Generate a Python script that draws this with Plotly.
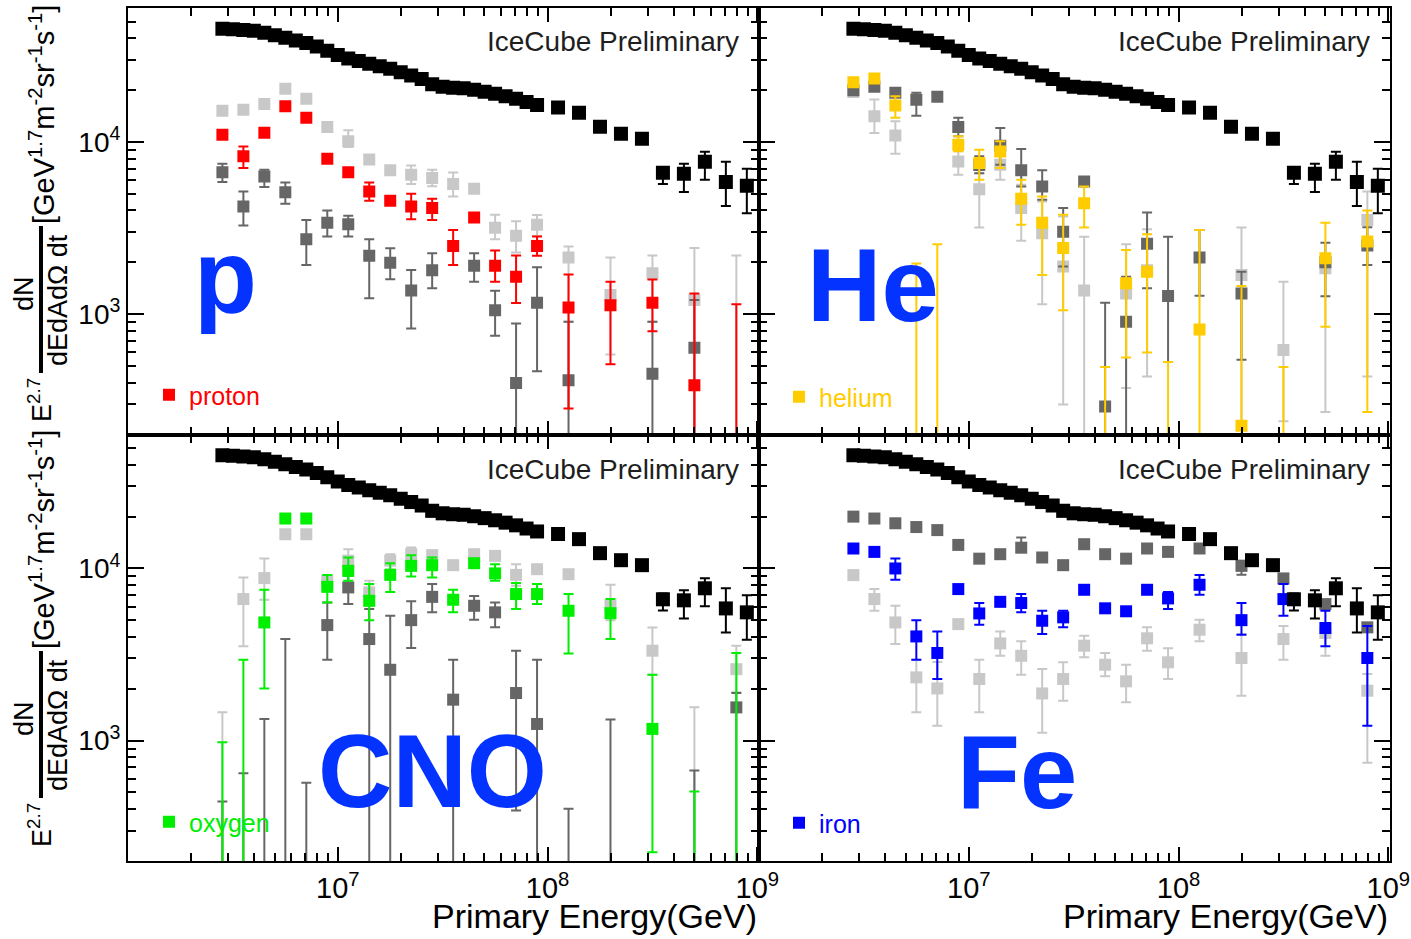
import plotly.graph_objects as go
from plotly.subplots import make_subplots

# ---------------------------------------------------------------- data
# bin centres of the composition analysis, log10(E / GeV)
LOG_E = [6.45, 6.55, 6.65, 6.75, 6.85, 6.95, 7.05, 7.15, 7.25, 7.35, 7.45,
         7.55, 7.65, 7.75, 7.85, 7.95, 8.1, 8.3, 8.5, 8.7, 8.9]

# all-particle spectrum, E^2.7 * flux [GeV^1.7 m^-2 sr^-1 s^-1]
ALL_LOG_E = [6.45, 6.50, 6.55, 6.60, 6.65, 6.70, 6.75, 6.80, 6.85, 6.90,
             6.95, 7.00, 7.05, 7.10, 7.15, 7.20, 7.25, 7.30, 7.35, 7.40,
             7.45, 7.50, 7.55, 7.60, 7.65, 7.70, 7.75, 7.80, 7.85, 7.90,
             7.95, 8.05, 8.15, 8.25, 8.35, 8.45, 8.55, 8.65, 8.75, 8.85, 8.95]
ALL_FLUX = [45500, 45200, 44700, 44200, 43150, 41700, 40270, 38900, 37600, 35900,
            33900, 32000, 30550, 29500, 28500, 27540, 26600, 25400, 24300, 23200,
            21600, 20900, 20650, 20500, 20100, 19600, 19050, 18450, 17800, 17060,
            16400, 15850, 14800, 12270, 11170, 10450, 6620, 6530, 7670, 5860, 5560]
ALL_LO = [None] * 36 + [5700, 5120, 6030, 4250, 3860]
ALL_HI = [None] * 36 + [7160, 7460, 8770, 7670, 6980]

# ---- proton panel
PROTON = [11000, 8250, 11300, 16100, 13800, 8000, 6660, 5160, 4550, 4220, 4130,
          2490, 3640, 1910, 1650, 2490, 1094, 1128, 1163, 386, 120]
PROTON_LO = [10500, 7060, 10800, 15400, 13200, 7650, 6300, 4550, 4350, 3560, 3520,
             1930, 3480, 1540, 1160, 2180, 283, 512, 796, 1, 1]
PROTON_HI = [11500, 9420, 11800, 16800, 14400, 8350, 7050, 5820, 4760, 5000, 4680,
             3080, 3800, 2340, 2190, 2820, 1700, 1540, 1590, 1320, 1140]
PROTON_LIGHT = [15200, 15400, 16600, 20400, 17800, 12200, 10100, 7900, 6840, 6460, 6170,
                5690, 5350, 3180, 2850, 3300, 2130, 1290, 1727, 1208, 150]
PROTON_LIGHT_LO = [14600, 14800, 15900, 19600, 17100, 11700, 9360, 7580, 6560, 5690, 5530,
                   4820, 5130, 2720, 2280, 2840, 902, 582, 902, 1, 1]
PROTON_LIGHT_HI = [15800, 16000, 17300, 21200, 18500, 12700, 11700, 8220, 7130, 7310, 6900,
                   6650, 5580, 3780, 3460, 3760, 2470, 2130, 2190, 2420, 2190]
PROTON_DARK = [6660, 4220, 6310, 5110, 2720, 3400, 3330, 2180, 1990, 1370, 1800,
               None, 1910, 1055, 398, 1163, 413, None, 451, 637, None]
PROTON_DARK_LO = [5850, 3270, 5470, 4370, 1930, 2820, 2820, 1236, 1592, 826, 1413,
                  None, 1541, 748, 1, 466, 1, None, 1, 1, None]
PROTON_DARK_HI = [7480, 5150, 6900, 5820, 3525, 4000, 3730, 2720, 2415, 1803, 2258,
                  None, 2258, 1368, 883, 1871, 902, None, 902, 1208, None]

# ---- helium panel
HELIUM = [22200, 23400, 16300, 120, 120, 9640, 7550, 8810, 4680, 3400, 2420,
          4410, 120, 1510, 1762, 120, 815, 225, 120, 2110, 2640]
HELIUM_LO = [21300, 22400, 13800, 1, 1, 8820, 6030, 7070, 3300, 1690, 1055,
             3185, 1, 560, 598, 1, 1, 1, 1, 844, 270]
HELIUM_HI = [23100, 24500, 18450, 1970, 2550, 10780, 9020, 10080, 6030, 4820, 3780,
             5510, 493, 2360, 2910, 527, 3080, 1456, 493, 3400, 4000]
HELIUM_LIGHT = [19500, 14100, 10900, None, None, 7710, 5320, 7380, 4130, 2950, 1890,
                1370, None, 1320, 1800, None, None, 1690, 620, 1845, 3520]
HELIUM_LIGHT_LO = [18700, 11280, 8550, None, None, 6460, 3185, 6030, 2670, 1143, 299,
                   1, None, 372, 435, None, None, 1, 239, 270, 435]
HELIUM_LIGHT_HI = [20300, 17630, 13180, None, None, 8820, 6590, 8440, 5640, 4510, 3690,
                   2818, None, 2550, 3110, None, None, 3185, 1541, 2240, 5150]
HELIUM_DARK = [20000, 20900, 19300, 17600, 18300, 12200, 7360, 9500, 6840, 5510, 3010,
               5900, 291, 902, 2560, 1274, 2130, 1320, None, 2000, 2500]
HELIUM_DARK_LO = [19200, 20100, 18500, 14200, 17600, 10800, 6590, 7380, 5510, 4610, 1890,
                  5650, 1, 1, 1413, 527, 1280, 544, None, 1270, 1930]
HELIUM_DARK_HI = [20800, 21700, 20100, 19300, 19000, 13800, 8250, 12070, 9100, 6840, 4130,
                  6150, 1163, 1650, 3890, 2818, 3080, 1762, None, 2600, 3200]

# ---- CNO panel
OXYGEN = [100, 100, 4860, 19500, 19500, 7820, 9690, 6490, 9180, 10350, 10450,
          6580, 10730, 9360, 7100, 7100, 5680, 5500, 1170, 100, 100]
OXYGEN_LO = [1, 1, 2010, 18600, 18600, 6350, 8480, 5010, 7310, 8990, 8870,
             5560, 10200, 8480, 5810, 6210, 3210, 3890, 225, 1, 1]
OXYGEN_HI = [980, 2950, 7520, 20400, 20400, 9150, 11580, 8110, 10730, 11950, 11580,
             7520, 11300, 10590, 8220, 8110, 7100, 6640, 2415, 506, 3230]
OXYGEN_LIGHT = [100, 6640, 8790, 15800, 15800, 8500, 11100, 7260, 11100, 12100, 11950,
                10450, 12100, 11830, 9180, 9900, 9260, 6070, 3330, 100, 2600]
OXYGEN_LIGHT_LO = [1, 3530, 6580, 15100, 15100, 8150, 10500, 6070, 9900, 11070, 11450,
                   10000, 11600, 11300, 7930, 9500, 8850, 5000, 2415, 1, 1910]
OXYGEN_LIGHT_HI = [1460, 8870, 11430, 16500, 16500, 8850, 12950, 8480, 12100, 13250, 12450,
                   10900, 12600, 12350, 10590, 10300, 9700, 8040, 4540, 1563, 3560]
OXYGEN_DARK = [100, 100, 100, 100, 100, 4690, 7760, 3890, 2580, 5010, 6840,
               1730, 6070, 5560, 1890, 1250, 100, 100, None, 100, 1560]
OXYGEN_DARK_LO = [1, 1, 1, 1, 1, 2950, 6210, 1, 1, 3450, 5560,
                  1, 5030, 4550, 393, 1, 1, 1, None, 1, 1]
OXYGEN_DARK_HI = [443, 647, 1337, 3890, 569, 6350, 9060, 5810, 5310, 6440, 8110,
                  2950, 6930, 6350, 3330, 2950, 402, 1325, None, 670, 1890]

# ---- iron panel
IRON = [13060, 12480, 10000, 4030, 3230, 7590, 5480, 6400, 6300, 4970, 5200,
        7520, 5870, 5640, 7520, 6700, 8040, 5010, 6640, 4510, 3020]
IRON_LO = [12500, 11950, 8590, 2950, 2280, 7250, 4710, 6100, 5560, 4160, 4550,
           7180, 5600, 5380, 7180, 5810, 7030, 4120, 5310, 3530, 1222]
IRON_HI = [13600, 13000, 11430, 5010, 4310, 7950, 6300, 6700, 7100, 5680, 5680,
           7880, 6150, 5900, 7880, 7310, 9150, 6300, 8110, 5680, 4640]
IRON_LIGHT = [9150, 6640, 4860, 2330, 2010, 4750, 2280, 3670, 3110, 1880, 2280,
              3560, 2760, 2210, 3930, 2850, 4410, 3020, 3890, 4220, 1950]
IRON_LIGHT_LO = [8800, 5680, 3640, 1463, 1222, 4550, 1463, 3110, 2415, 1110, 1706,
                 3050, 2365, 1670, 3330, 2280, 3780, 1825, 2950, 3110, 743]
IRON_LIGHT_HI = [9500, 7590, 6070, 2950, 2860, 4950, 2950, 4310, 3780, 2610, 2850,
                 4060, 3230, 2760, 4550, 3440, 5040, 4160, 4640, 4640, 2440]
IRON_DARK = [20000, 19500, 18300, 17400, 16700, 13700, 11400, 12100, 13200, 11580, 10450,
             13830, 12100, 11400, 13060, 12480, 13060, 10350, 8750, 6210, 4550]
IRON_DARK_LO = [19200, 18700, 17600, 16700, 16000, 13150, 10950, 11600, 12500, 11100, 10000,
                13250, 11600, 10950, 12500, 11950, 12500, 9180, 8350, 5950, 4350]
IRON_DARK_HI = [20800, 20300, 19000, 18100, 17400, 14250, 11850, 12600, 15140, 12050, 10900,
                14400, 12600, 11850, 13600, 13000, 13600, 11070, 9150, 6450, 4750]

# ---------------------------------------------------------------- styling
FONT = "Liberation Sans, Arial, Helvetica, sans-serif"
W, H = 1411, 939
ML, MR, MT, MB = 128, 21, 8, 78
LIGHT, DARK = "#c8c8c8", "#666666"
LABEL_BLUE = "#0433ff"

PANELS = [
    # row, col, series name, colour, main / light / dark series, big label, legend id
    (1, 1, "proton", "#ff0000", (PROTON, PROTON_LO, PROTON_HI),
     (PROTON_LIGHT, PROTON_LIGHT_LO, PROTON_LIGHT_HI),
     (PROTON_DARK, PROTON_DARK_LO, PROTON_DARK_HI), "p", "legend"),
    (1, 2, "helium", "#ffcc00", (HELIUM, HELIUM_LO, HELIUM_HI),
     (HELIUM_LIGHT, HELIUM_LIGHT_LO, HELIUM_LIGHT_HI),
     (HELIUM_DARK, HELIUM_DARK_LO, HELIUM_DARK_HI), "He", "legend2"),
    (2, 1, "oxygen", "#00ee00", (OXYGEN, OXYGEN_LO, OXYGEN_HI),
     (OXYGEN_LIGHT, OXYGEN_LIGHT_LO, OXYGEN_LIGHT_HI),
     (OXYGEN_DARK, OXYGEN_DARK_LO, OXYGEN_DARK_HI), "CNO", "legend3"),
    (2, 2, "iron", "#0000ff", (IRON, IRON_LO, IRON_HI),
     (IRON_LIGHT, IRON_LIGHT_LO, IRON_LIGHT_HI),
     (IRON_DARK, IRON_DARK_LO, IRON_DARK_HI), "Fe", "legend4"),
]


def paper(xp, yp):
    """pixel position on the page -> paper coordinates"""
    return (xp - ML) / (W - ML - MR), 1 - (yp - MT) / (H - MT - MB)


def errors(vals, lo, hi):
    up = [None if v is None else (0 if h is None else h - v) for v, h in zip(vals, hi)]
    dn = [None if v is None else (0 if l is None else v - l) for v, l in zip(vals, lo)]
    return up, dn


def points(vals, lo, hi, color, size, logx, name=None, legend=None):
    up, dn = errors(vals, lo, hi)
    return go.Scatter(
        x=[10 ** e for e in logx], y=vals, mode="markers", name=name,
        showlegend=legend is not None, legend=legend or "legend",
        marker=dict(symbol="square", size=size, color=color, line=dict(width=0)),
        error_y=dict(type="data", symmetric=False, array=up, arrayminus=dn,
                     color=color, thickness=2, width=5),
    )


fig = make_subplots(rows=2, cols=2, horizontal_spacing=0, vertical_spacing=0)

for row, col, name, color, main, light, dark, big, leg in PANELS:
    fig.add_trace(points(*light, LIGHT, 12, LOG_E), row=row, col=col)
    fig.add_trace(points(*dark, DARK, 12, LOG_E), row=row, col=col)
    fig.add_trace(points(*main, color, 12, LOG_E, name=name, legend=leg), row=row, col=col)
    fig.add_trace(points(ALL_FLUX, ALL_LO, ALL_HI, "#000000", 14, ALL_LOG_E), row=row, col=col)

# axes: framed panels with inward, mirrored ticks
minor_x = [m * 10 ** d for d in (6, 7, 8) for m in range(2, 10)]
minor_y = [m * 10 ** d for d in (2, 3, 4) for m in range(2, 10)]
for row in (1, 2):
    for col in (1, 2):
        fig.update_xaxes(
            type="log", range=[6.0, 9.008], showgrid=False, zeroline=False,
            showline=True, linecolor="black", linewidth=2, mirror="allticks",
            ticks="inside", ticklen=14, tickwidth=2, tickcolor="black",
            tickvals=[1e7, 1e8, 1e9],
            ticktext=["10<sup>7</sup>", "10<sup>8</sup>", "10<sup>9</sup>"],
            showticklabels=(row == 2),
            tickfont=dict(family=FONT, size=29, color="black"),
            minor=dict(tickmode="array", tickvals=minor_x, ticks="inside",
                       ticklen=8, tickwidth=2, tickcolor="black", showgrid=False),
            row=row, col=col)
        fig.update_yaxes(
            type="log", range=[2.301, 4.778], showgrid=False, zeroline=False,
            showline=True, linecolor="black", linewidth=2, mirror="allticks",
            ticks="inside", ticklen=16, tickwidth=2, tickcolor="black",
            tickvals=[1e3, 1e4],
            ticktext=["10<sup>3</sup>", "10<sup>4</sup>"],
            showticklabels=(col == 1),
            tickfont=dict(family=FONT, size=28, color="black"),
            minor=dict(tickmode="array", tickvals=minor_y, ticks="inside",
                       ticklen=8, tickwidth=2, tickcolor="black", showgrid=False),
            row=row, col=col)

annotations = []
shapes = []

# watermark and big element labels
for (xr, yc) in [(741, 42), (1372, 42), (741, 469), (1372, 469)]:
    x, y = paper(xr, yc)
    annotations.append(dict(x=x, y=y, xref="paper", yref="paper", xanchor="right",
                            yanchor="middle", showarrow=False, text="IceCube Preliminary",
                            font=dict(family=FONT, size=28, color="#1e1e1e")))

BIG_POS = {"p": (225, 276), "He": (873, 286), "CNO": (432, 771), "Fe": (1017, 772)}
for label, (xc, yc) in BIG_POS.items():
    x, y = paper(xc, yc)
    annotations.append(dict(x=x, y=y, xref="paper", yref="paper", xanchor="center",
                            yanchor="middle", showarrow=False, text=f"<b>{label}</b>",
                            font=dict(family=FONT, size=103, color=LABEL_BLUE)))

# x-axis titles, right aligned under each column
for xr in (759, 1390):
    x, y = paper(xr, 916)
    annotations.append(dict(x=x, y=y, xref="paper", yref="paper", xanchor="right",
                            yanchor="middle", showarrow=False, text="Primary Energy(GeV)",
                            font=dict(family=FONT, size=34, color="black")))

# y-axis titles: E^2.7 dN/(dE dA dΩ dt) [GeV^1.7 m^-2 sr^-1 s^-1]
UNITS = "[GeV<sup>1.7</sup>m<sup>-2</sup>sr<sup>-1</sup>s<sup>-1</sup>]"
for off in (0, 425):
    for text, xc, yc, size in [("E<sup>2.7</sup>", 40, 400, 27),
                               ("dN", 24, 294, 27),
                               ("dEdAdΩ dt", 58, 300, 27),
                               (UNITS, 42, 114, 29)]:
        x, y = paper(xc, yc + off)
        annotations.append(dict(x=x, y=y, xref="paper", yref="paper", xanchor="center",
                                yanchor="middle", showarrow=False, text=text, textangle=-90,
                                font=dict(family=FONT, size=size, color="black")))
    x0, y0 = paper(41, 226 + off)
    x1, y1 = paper(41, 373 + off)
    shapes.append(dict(type="line", xref="paper", yref="paper", x0=x0, y0=y0, x1=x1, y1=y1,
                       line=dict(color="black", width=4)))

# per-panel legends
LEG_POS = {"legend": (149, 395), "legend2": (779, 397),
           "legend3": (149, 822), "legend4": (779, 823)}
LEG_COLOR = {"legend": "#ff0000", "legend2": "#ffcc00",
             "legend3": "#00ee00", "legend4": "#0000ff"}
legends = {}
for key, (xl, yc) in LEG_POS.items():
    x, y = paper(xl, yc)
    legends[key] = dict(x=x, y=y, xanchor="left", yanchor="middle",
                        bgcolor="rgba(0,0,0,0)", borderwidth=0,
                        font=dict(family=FONT, size=25, color=LEG_COLOR[key]),
                        itemsizing="trace")

fig.update_layout(
    width=W, height=H,
    margin=dict(l=ML, r=MR, t=MT, b=MB, autoexpand=False),
    paper_bgcolor="white", plot_bgcolor="white",
    font=dict(family=FONT, color="black"),
    annotations=annotations, shapes=shapes,
    **legends,
)

fig.write_html("out.html")
